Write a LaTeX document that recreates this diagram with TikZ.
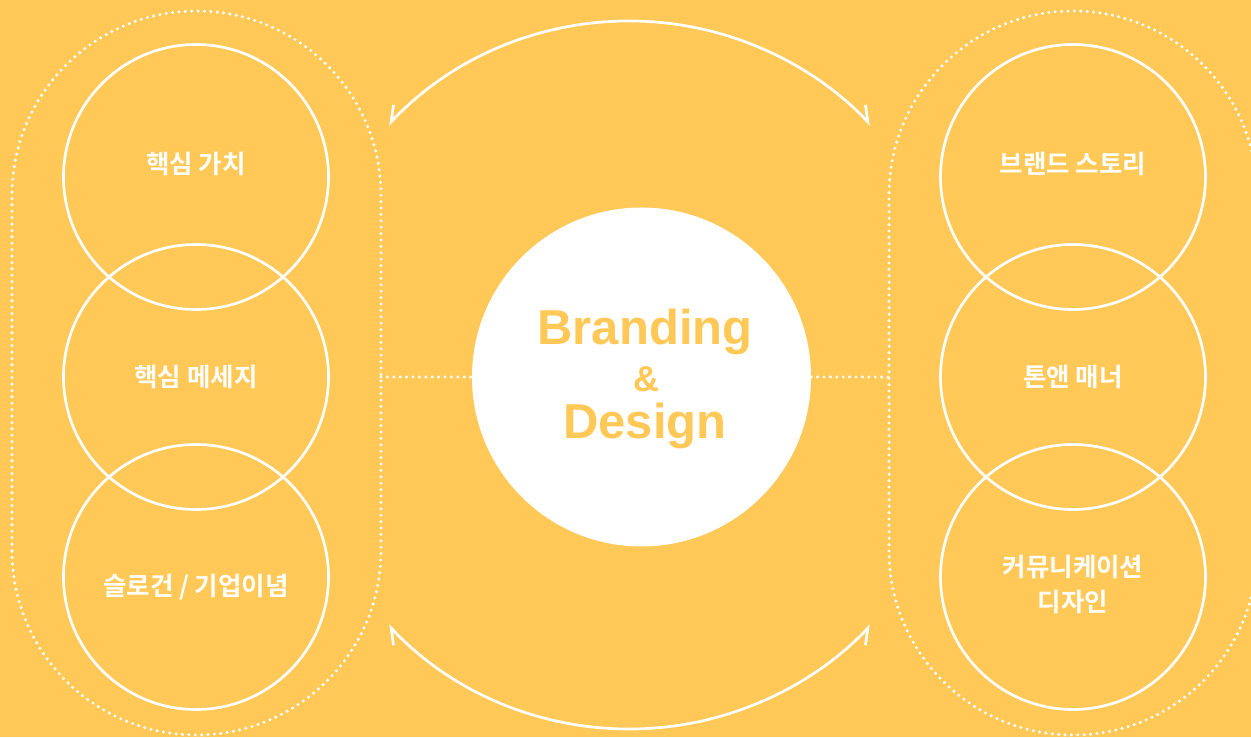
\documentclass[tikz,border=0pt]{standalone}
\usepackage{fontspec}
\newfontfamily\kr{Noto Sans CJK KR Bold}
\newfontfamily\lat{Liberation Sans}
\usetikzlibrary{arrows.meta}
\definecolor{bg}{HTML}{FFC857}
\begin{document}
\begin{tikzpicture}[x=1pt,y=1pt,
  ring/.style={circle, draw=white, line width=2.7pt, minimum size=265pt, inner sep=0pt},
  lbl/.style={text=white, font=\kr\fontsize{25.5}{35}\selectfont, align=center},
  dots/.style={draw=white, line width=3.4pt, line cap=round, dash pattern=on 0pt off 6.4pt},
  arcline/.style={draw=white, line width=2.7pt},
  core/.style={circle, fill=white, minimum size=339pt, inner sep=0pt},
  coretext/.style={text=bg, font=\lat\bfseries\fontsize{#1}{#1}\selectfont, anchor=base},
]
\fill[bg] (0,0) rectangle (1251,737);
\useasboundingbox (0,0) rectangle (1251,737);
\clip (0,0) rectangle (1251,737);

% dotted stadium frames
\draw[dots, rounded corners=184.5pt] (12,2) rectangle (381,726);
\draw[dots, rounded corners=184pt] (889,2) rectangle (1257,726);

% central circle
\node[core] (core) at (641.5,360) {};
\node[coretext=49] (brand) at (645,392) {Branding};
\node[coretext=36] (amp) at (646,345) {\&};
\node[coretext=49] (design) at (645,298) {Design};

% left circles
\node[ring] (l1) at (196,560) {};
\node[ring] (l2) at (196,360) {};
\node[ring] (l3) at (196,160) {};
% right circles
\node[ring] (r1) at (1073,560) {};
\node[ring] (r2) at (1073,360) {};
\node[ring] (r3) at (1073,160) {};

% labels
\node[lbl] (t1) at (196,573) {핵심 가치};
\node[lbl] (t2) at (196,360) {핵심 메세지};
\node[lbl] (t3) at (196,150) {슬로건 / 기업이념};
\node[lbl] (t4) at (1073,573) {브랜드 스토리};
\node[lbl] (t5) at (1073,360) {톤앤 매너};
\node[lbl] (t6) at (1073,153) {커뮤니케이션\\디자인};

% dotted connectors
\coordinate (lframe) at (381,360);
\coordinate (rframe) at (889,360);
\draw[dots] (lframe) -- (core.west);
\draw[dots] (core.east) -- (rframe);

% curved arrows
\coordinate (ta) at (388.3,612.1);
\coordinate (ba) at (388.3,111.9);
\draw[arcline, {Straight Barb[harpoon,swap,length=14pt,width=20pt]}-{Straight Barb[harpoon,length=14pt,width=20pt]}]
  (ta) arc[start angle=136.6, end angle=43.4, radius=332];
\draw[arcline, {Straight Barb[harpoon,length=14pt,width=20pt]}-{Straight Barb[harpoon,swap,length=14pt,width=20pt]}]
  (ba) arc[start angle=223.4, end angle=316.6, radius=332];
\end{tikzpicture}
\end{document}
